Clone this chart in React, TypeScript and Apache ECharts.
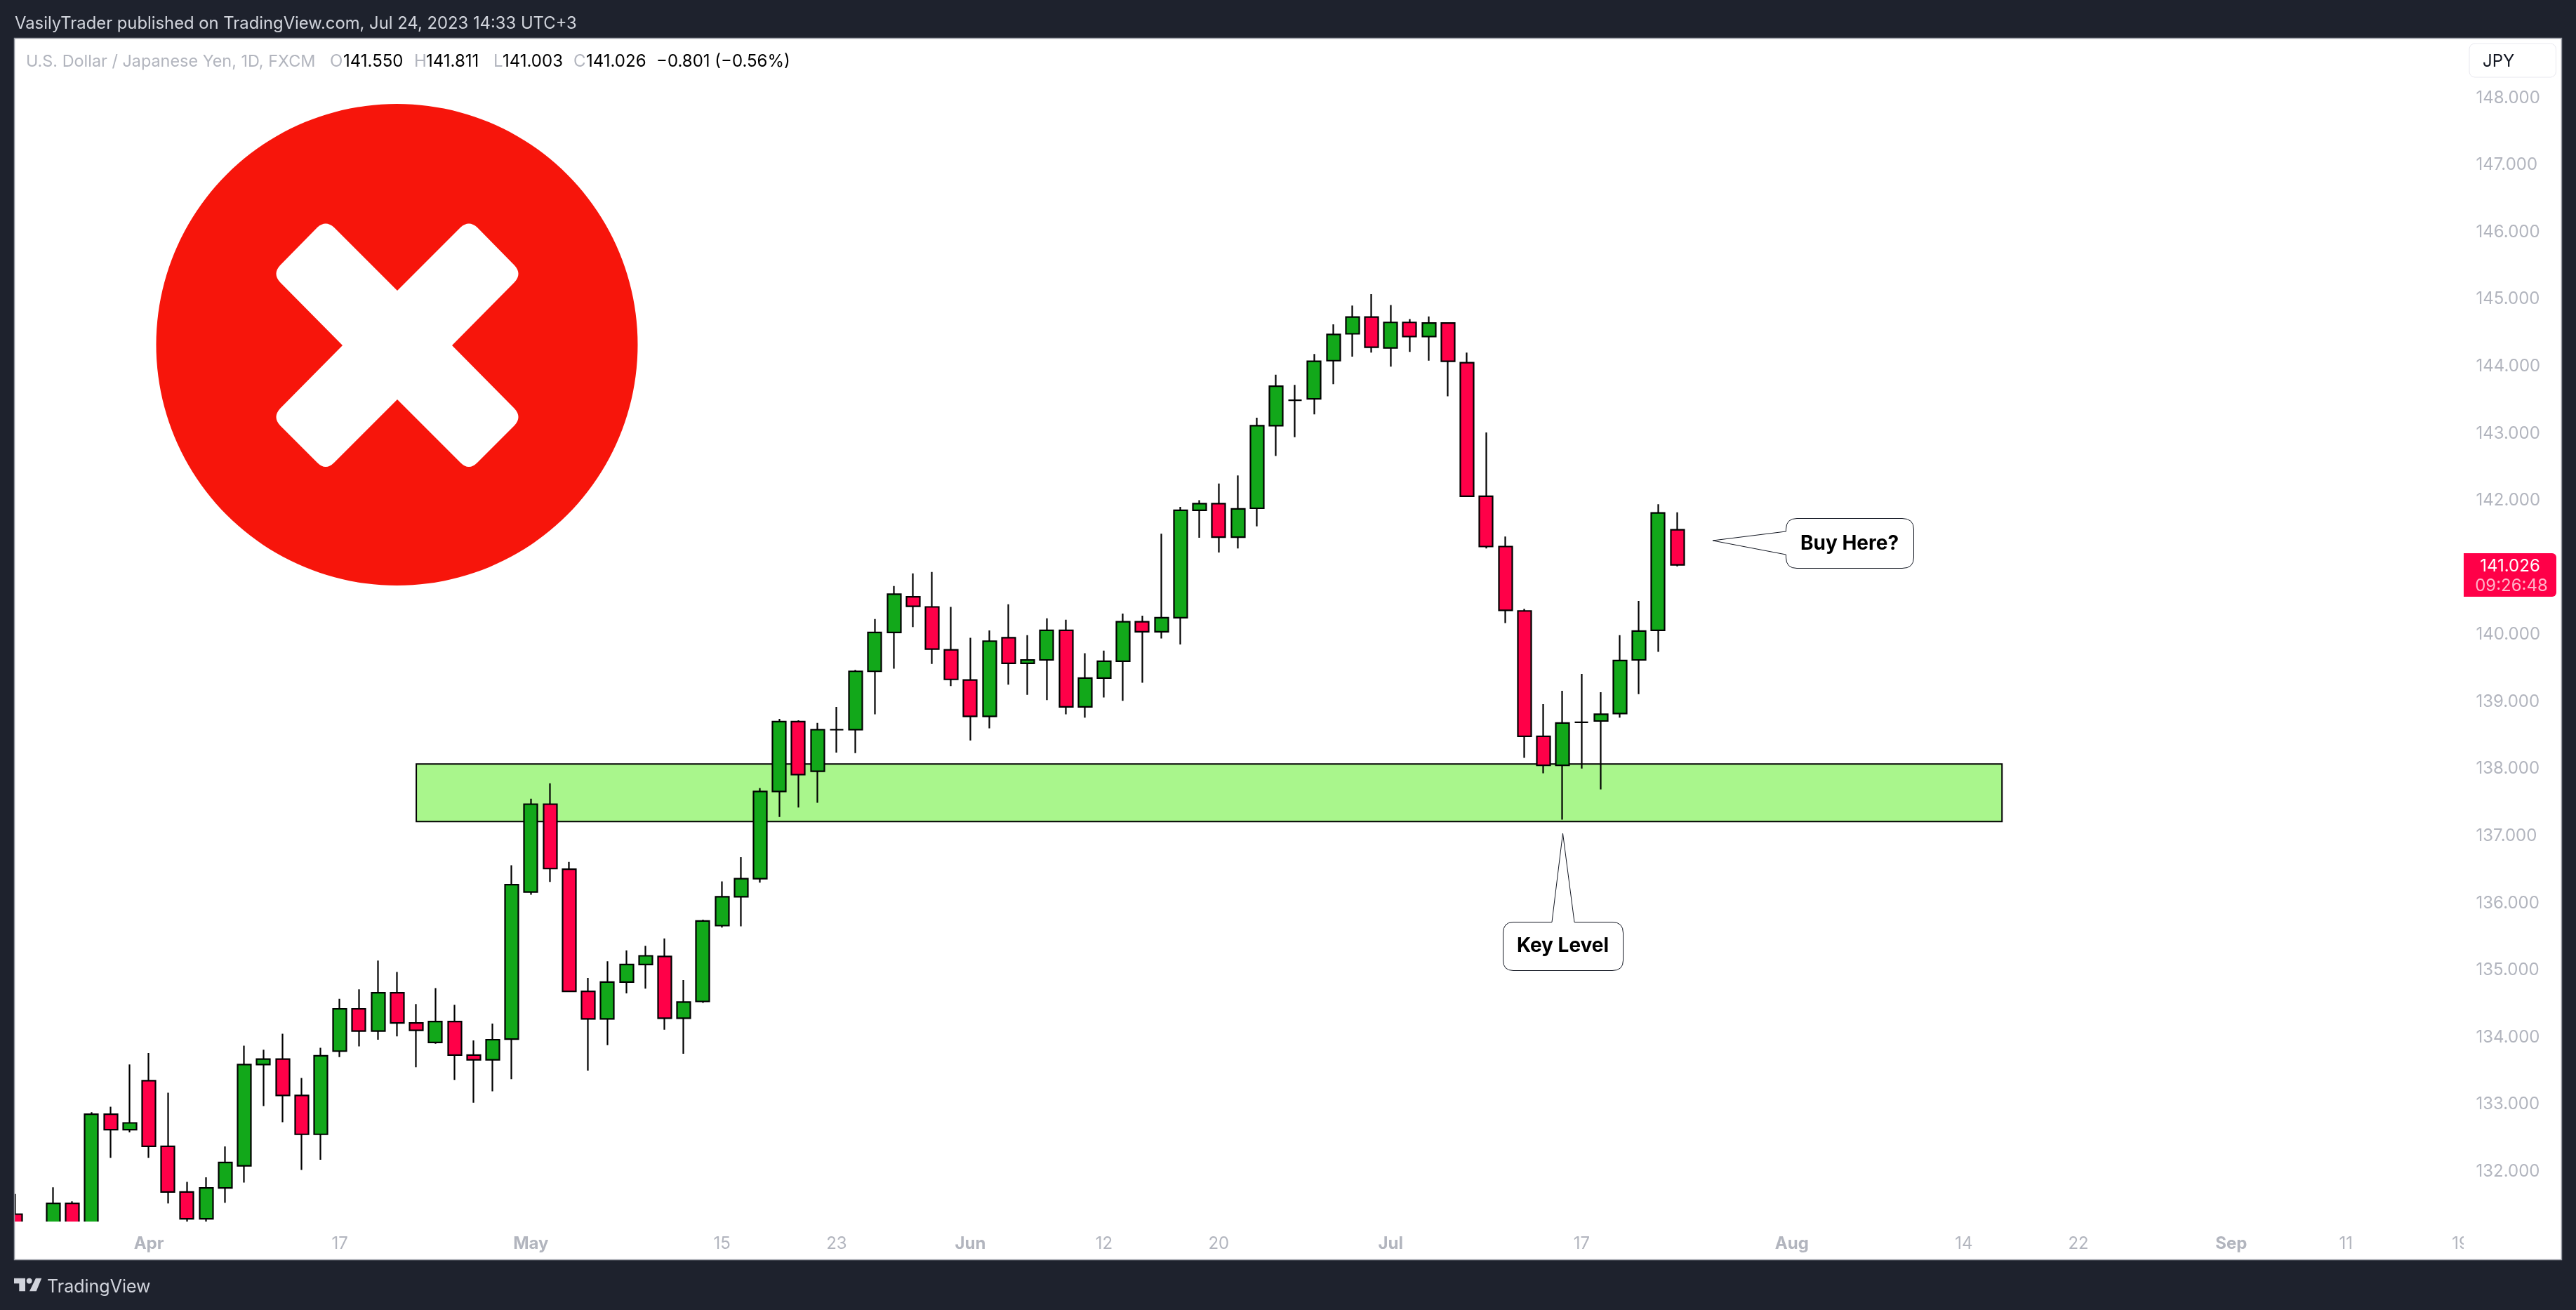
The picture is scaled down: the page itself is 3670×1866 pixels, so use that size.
import React, { useEffect, useRef } from "react";
import * as echarts from "echarts";

const categories = [
  "Mar 23","Mar 24","Mar 27","Mar 28","Mar 29","Mar 30","Mar 31",
  "Apr 3","Apr 4","Apr 5","Apr 6","Apr 7","Apr 10","Apr 11","Apr 12","Apr 13","Apr 14","Apr 17","Apr 18","Apr 19","Apr 20","Apr 21","Apr 24","Apr 25","Apr 26","Apr 27","Apr 28",
  "May 1","May 2","May 3","May 4","May 5","May 8","May 9","May 10","May 11","May 12","May 15","May 16","May 17","May 18","May 19","May 22","May 23","May 24","May 25","May 26","May 29","May 30","May 31",
  "Jun 1","Jun 2","Jun 5","Jun 6","Jun 7","Jun 8","Jun 9","Jun 12","Jun 13","Jun 14","Jun 15","Jun 16","Jun 19","Jun 20","Jun 21","Jun 22","Jun 23","Jun 26","Jun 27","Jun 28","Jun 29","Jun 30",
  "Jul 3","Jul 4","Jul 5","Jul 6","Jul 7","Jul 10","Jul 11","Jul 12","Jul 13","Jul 14","Jul 17","Jul 18","Jul 19","Jul 20","Jul 21","Jul 24","Jul 25","Jul 26","Jul 27","Jul 28","Jul 31",
  "Aug 1","Aug 2","Aug 3","Aug 4","Aug 7","Aug 8","Aug 9","Aug 10","Aug 11","Aug 14","Aug 15","Aug 16","Aug 17","Aug 18","Aug 21","Aug 22","Aug 23","Aug 24","Aug 25","Aug 28","Aug 29","Aug 30","Aug 31",
  "Sep 1","Sep 4","Sep 5","Sep 6","Sep 7","Sep 8","Sep 11","Sep 12","Sep 13","Sep 14","Sep 15","Sep 18","Sep 19",
];

const tickDates = ["Apr 3","Apr 17","May 1","May 15","May 23","Jun 1","Jun 12","Jun 20","Jul 3","Jul 17","Aug 1","Aug 14","Aug 22","Sep 1","Sep 11","Sep 19"];
const tickLabels = ["Apr","17","May","15","23","Jun","12","20","Jul","17","Aug","14","22","Sep","11","19"];
const priceTicks = [132,133,134,135,136,137,138,139,140,141,142,143,144,145,146,147,148];

const opens = [
  131.35,130.85,130.75,131.51,131.15,132.84,132.61,133.34,132.36,131.68,131.28,131.74,132.07,133.58,133.66,133.12,132.54,133.78,134.41,134.08,
  134.65,134.20,133.91,134.22,133.72,133.65,133.96,136.15,137.46,136.49,134.67,134.26,134.81,135.07,135.19,134.27,134.52,135.65,136.08,136.35,
  137.65,138.69,137.95,138.57,138.57,139.44,140.02,140.55,140.40,139.76,139.31,138.77,139.94,139.56,139.61,140.05,138.91,139.34,139.59,140.18,
  140.03,140.24,141.84,141.94,141.44,141.87,143.10,143.48,143.50,144.07,144.47,144.72,144.26,144.64,144.43,144.63,144.04,142.05,141.30,140.34,
  138.47,138.04,138.68,138.70,138.81,139.61,140.05,141.55,
];
const closes = [
  130.85,130.75,131.51,131.15,132.84,132.61,132.71,132.36,131.68,131.28,131.74,132.12,133.58,133.66,133.12,132.54,133.71,134.41,134.08,134.65,
  134.20,134.09,134.22,133.72,133.65,133.95,136.26,137.46,136.50,134.67,134.26,134.81,135.07,135.20,134.27,134.51,135.72,136.08,136.35,137.65,
  138.69,137.90,138.57,138.57,139.44,140.02,140.59,140.41,139.77,139.32,138.77,139.89,139.56,139.61,140.05,138.91,139.34,139.59,140.18,140.03,
  140.24,141.84,141.94,141.44,141.86,143.10,143.69,143.48,144.06,144.46,144.72,144.27,144.64,144.43,144.63,144.06,142.05,141.30,140.35,138.47,
  138.04,138.67,138.68,138.80,139.60,140.04,141.80,141.026,
];
const lows = [
  130.60,130.50,130.60,131.00,131.05,132.19,132.57,132.19,131.51,131.10,131.10,131.52,131.82,132.96,132.72,132.01,132.16,133.69,133.85,133.95,
  134.00,133.54,133.89,133.35,133.01,133.18,133.36,136.11,136.30,134.67,133.49,133.87,134.64,134.71,134.10,133.74,134.50,135.62,135.64,136.29,
  137.27,137.41,137.48,138.23,138.22,138.80,139.48,140.10,139.55,139.22,138.41,138.59,139.24,139.09,139.01,138.80,138.75,139.05,139.00,139.27,
  139.93,139.84,141.43,141.21,141.27,141.60,142.65,142.93,143.27,143.72,144.13,144.19,143.98,144.20,144.07,143.54,142.05,141.27,140.16,138.15,
  137.92,137.23,137.99,137.68,138.75,139.10,139.73,141.003,
];
const highs = [
  131.65,131.10,131.75,131.54,132.87,132.95,133.58,133.75,133.16,131.83,131.90,132.36,133.86,133.80,134.04,133.38,133.83,134.56,134.70,135.13,
  134.96,134.48,134.72,134.47,133.94,134.19,136.55,137.54,137.77,136.60,134.87,135.12,135.28,135.35,135.46,134.84,135.74,136.31,136.67,137.70,
  138.73,138.71,138.67,138.91,139.46,140.22,140.71,140.90,140.92,140.40,139.94,140.05,140.44,139.98,140.23,140.21,139.71,139.75,140.30,140.27,
  141.49,141.89,141.99,142.24,142.36,143.22,143.86,143.71,144.17,144.61,144.89,145.06,144.90,144.69,144.73,144.64,144.19,143.00,141.45,140.37,
  138.95,139.15,139.40,139.13,139.98,140.49,141.93,141.811,
];

const zoneTop = 138.06;
const zoneBottom = 137.2;
const zoneFrom = "Apr 21";
const zoneTo = "Aug 16";

const headerText = "VasilyTrader published on TradingView.com, Jul 24, 2023 14:33 UTC+3";
const legendParts: [string, number, string, number][] = [
  ["U.S. Dollar / Japanese Yen, 1D, FXCM", 37, "#B2B5BE", 23.4],
  ["O", 470, "#B2B5BE", 24],
  ["141.550", 489, "#000000", 24],
  ["H", 590, "#B2B5BE", 24],
  ["141.811", 607, "#000000", 24],
  ["L", 703, "#B2B5BE", 24],
  ["141.003", 716, "#000000", 24],
  ["C", 817, "#B2B5BE", 24],
  ["141.026", 835, "#000000", 24],
  ["−0.801 (−0.56%)", 935, "#000000", 24],
];

const FONT = "Inter";
const DARK = "#1E222D";

function registerShapes() {
  echarts.graphic.registerShape(
    "crossMark",
    echarts.graphic.extendPath(
      "M566 414 L476 324 Q464 313 452 324 L399 378 Q388 390 399 402 L488 492 L399 582 Q388 594 399 606 L452 659 Q464 671 476 659 L566 569 L656 659 Q668 671 680 659 L733 606 Q744 594 733 582 L644 492 L733 402 Q744 390 733 378 L680 324 Q668 313 656 324 Z",
      {}
    ) as any
  );
  echarts.graphic.registerShape(
    "buyCallout",
    echarts.graphic.extendPath(
      "M2440 770 L2544.5 757 L2544.5 754 Q2544.5 738.5 2560 738.5 L2710 738.5 Q2726.5 738.5 2726.5 754 L2726.5 794 Q2726.5 809.5 2710 809.5 L2560 809.5 Q2544.5 809.5 2544.5 794 L2544.5 790 Z",
      {}
    ) as any
  );
  echarts.graphic.registerShape(
    "keyCallout",
    echarts.graphic.extendPath(
      "M2226.5 1187 L2243 1313.5 L2297 1313.5 Q2312.5 1313.5 2312.5 1329 L2312.5 1368 Q2312.5 1382.5 2297 1382.5 L2156 1382.5 Q2141.5 1382.5 2141.5 1368 L2141.5 1329 Q2141.5 1313.5 2156 1313.5 L2211 1313.5 Z",
      {}
    ) as any
  );
  echarts.graphic.registerShape(
    "tvMark",
    echarts.graphic.extendPath(
      "M20 1820.7 L36 1820.7 L36 1839.3 L27.3 1839.3 L27.3 1828.3 L20 1828.3 Z M51 1820.7 L59.3 1820.7 L51.7 1839.3 L42 1839.3 Z",
      {}
    ) as any
  );
}

function text(t: string, x: number, y: number, font: string, fill: string, align = "left", z = 50) {
  return {
    type: "text",
    x,
    y,
    z,
    silent: true,
    style: { text: t, font, fill, textAlign: align, textVerticalAlign: "middle" },
  };
}

export default function App() {
  const ref = useRef<HTMLDivElement>(null);
  useEffect(() => {
    document.body.style.margin = "0";
    document.body.style.background = DARK;
    registerShapes();
    const chart = echarts.init(ref.current!, undefined, { renderer: "svg" });

    const labelFor: Record<string, string> = {};
    tickDates.forEach((d, i) => (labelFor[d] = tickLabels[i]));

    const elements: any[] = [
      { type: "rect", z: -10, silent: true, shape: { x: 0, y: 0, width: 3670, height: 1866 }, style: { fill: DARK } },
      { type: "rect", z: -9, silent: true, shape: { x: 20.5, y: 54.5, width: 3629, height: 1740 }, style: { fill: "#FFFFFF" } },
      // plot-area edge: candles stop at the bottom of the price pane and at the left of the panel
      { type: "rect", z: 44, silent: true, shape: { x: 0, y: 1795, width: 3670, height: 71 }, style: { fill: DARK } },
      { type: "rect", z: 44, silent: true, shape: { x: 0, y: 54, width: 20.5, height: 1741 }, style: { fill: DARK } },
      { type: "rect", z: 45, silent: true, shape: { x: 21, y: 1740, width: 3489, height: 54 }, style: { fill: "#FFFFFF" } },
      { type: "rect", z: 46, silent: true, shape: { x: 20.5, y: 54.5, width: 3629, height: 1740 }, style: { fill: "none", stroke: "#9598A1", lineWidth: 1.5 } },
      text(headerText, 21, 32, `23.8px ${FONT}`, "#D1D4DC"),
      ...legendParts.map(([t, x, c, s]) => text(t, x, 86, `${s}px ${FONT}`, c)),
      { type: "rect", z: 50, silent: true, shape: { x: 3518, y: 62, width: 123.5, height: 48, r: 8 }, style: { fill: "#FFFFFF", stroke: "#E8E8EF", lineWidth: 1 } },
      text("JPY", 3537, 86, `24px ${FONT}`, "#131722"),
      { type: "rect", z: 70, silent: true, shape: { x: 3510, y: 788, width: 132, height: 62, r: [0, 6, 6, 0] }, style: { fill: "#FF0048" } },
      text("141.026", 3576, 805, `24px ${FONT}`, "#FFFFFF", "center", 71),
      text("09:26:48", 3578, 833, `24px ${FONT}`, "#FFB3C8", "center", 71),
      { type: "circle", z: 40, silent: true, shape: { cx: 565.5, cy: 491, r: 343 }, style: { fill: "#F7150B" } },
      { type: "crossMark", z: 41, silent: true, style: { fill: "#FFFFFF" } },
      { type: "buyCallout", z: 40, silent: true, style: { fill: "#FFFFFF", stroke: "#131722", lineWidth: 1 } },
      text("Buy Here?", 2635, 773, `bold 28px ${FONT}`, "#000000", "center", 41),
      { type: "keyCallout", z: 40, silent: true, style: { fill: "#FFFFFF", stroke: "#131722", lineWidth: 1 } },
      text("Key Level", 2226.5, 1346, `bold 28px ${FONT}`, "#000000", "center", 41),
      // the last time label is cut where the price scale begins
      { type: "rect", z: 70, silent: true, shape: { x: 3510, y: 1745, width: 40, height: 48 }, style: { fill: "#FFFFFF" } },
      { type: "tvMark", z: 50, silent: true, style: { fill: "#D1D4DC" } },
      { type: "circle", z: 50, silent: true, shape: { cx: 41.7, cy: 1824.5, r: 4 }, style: { fill: "#D1D4DC" } },
      text("TradingView", 67, 1832, `25px ${FONT}`, "#D1D4DC"),
    ];

    chart.setOption({
      animation: false,
      backgroundColor: "transparent",
      textStyle: { fontFamily: FONT },
      grid: { left: 21.5, top: 54, width: 3484, height: 1686, containLabel: false },
      xAxis: {
        type: "category",
        data: categories,
        boundaryGap: false,
        z: 60,
        axisLine: { show: false },
        axisTick: { show: false },
        splitLine: { show: false },
        axisLabel: {
          interval: (_: number, v: string) => labelFor[v] !== undefined,
          hideOverlap: false,
          margin: 18,
          color: "#B2B5BE",
          fontSize: 24,
          fontFamily: FONT,
          formatter: (v: string) => {
            const s = labelFor[v] ?? "";
            return /^[A-Z]/.test(s) ? `{m|${s}}` : s;
          },
          rich: { m: { fontWeight: "bold", fontSize: 24, color: "#B2B5BE", fontFamily: FONT } },
        },
      },
      yAxis: {
        type: "value",
        position: "right",
        min: 131.24,
        max: 148.88,
        z: 60,
        axisLine: { show: false },
        axisTick: { show: false },
        splitLine: { show: false },
        axisLabel: {
          customValues: priceTicks,
          margin: 22,
          color: "#B2B5BE",
          fontSize: 24,
          fontFamily: FONT,
          formatter: (v: number) => v.toFixed(3),
        },
      },
      series: [
        {
          type: "candlestick",
          z: 3,
          barWidth: 19.5,
          clip: true,
          itemStyle: {
            color: "#12A81A",
            color0: "#FF0048",
            borderColor: "#000000",
            borderColor0: "#000000",
            borderColorDoji: "#000000",
            borderWidth: 2.2,
          },
          markArea: {
            silent: true,
            itemStyle: { color: "#A9F68C", borderColor: "#000000", borderWidth: 2 },
            data: [[{ coord: [zoneFrom, zoneTop] }, { coord: [zoneTo, zoneBottom] }]],
          },
          data: opens.map((o, i) => [o, closes[i], lows[i], highs[i]]),
        },
      ],
      graphic: { elements },
    });
    return () => chart.dispose();
  }, []);
  return <div ref={ref} style={{ position: "fixed", left: 0, top: 0, width: 3670, height: 1866 }} />;
}
